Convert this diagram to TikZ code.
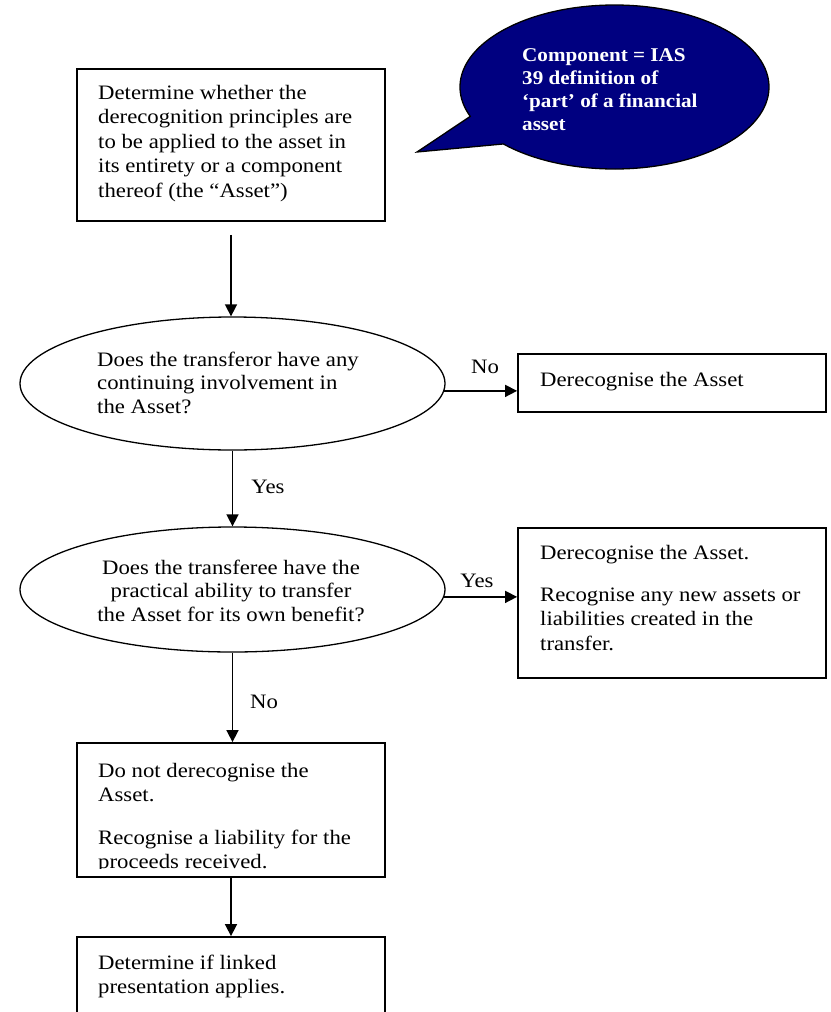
\documentclass[tikz,border=0pt]{standalone}
\usepackage{fontspec}
\setmainfont{Liberation Serif}[FakeStretch=1.11]
\newfontfamily\callfont{Liberation Serif}[FakeStretch=1.083]
\usetikzlibrary{arrows.meta,shapes.geometric,calc}
\definecolor{calloutblue}{RGB}{0,0,128}
\tikzset{
  boxshape/.style={draw, line width=1.8pt, minimum width=308pt, inner sep=0pt},
  ellshape/.style={draw, ellipse, line width=1.3pt, minimum width=425pt, inner sep=0pt},
  boxtext/.style={anchor=north west, inner sep=0pt, align=left, font=\fontsize{20.5pt}{24.5pt}\selectfont},
  elltext/.style={inner sep=0pt, font=\fontsize{20.5pt}{23.7pt}\selectfont},
  lbl/.style={inner sep=0pt, font=\fontsize{20.5pt}{24pt}\selectfont},
  arr/.style={line width=1.6pt, -{Triangle[length=12pt,width=12pt]}},
}
\begin{document}
\begin{tikzpicture}[x=1pt,y=-1pt]
\useasboundingbox (0,0) rectangle (830,1012);
\fill[white] (0,0) rectangle (830,1012);
\clip (0,0) rectangle (830,1012);

% callout
\coordinate (cc) at (614.5,87);
\coordinate (tip) at (417,152);
\filldraw[fill=calloutblue, draw=black, line width=1.3pt]
  ($(cc)+(136:154.5 and 82)$) arc[start angle=136, end angle=-201, x radius=154.5, y radius=82]
  -- (tip) -- cycle;
\node[anchor=north west, inner sep=0pt, align=left, text=white,
      font=\callfont\bfseries\fontsize{19.5pt}{23pt}\selectfont] (tc) at (522,48.5)
  {Component = IAS\\39 definition of\\‘part’ of a financial\\asset};

% boxes and ellipses
\node[boxshape, minimum height=152pt] (b1) at (231,145) {};
\node[boxtext] (t1) at (98,84.6)
  {Determine whether the\\derecognition principles are\\to be applied to the asset in\\its entirety or a component\\thereof (the “Asset”)};

\node[ellshape, minimum height=133pt] (e1) at (232.5,383.5) {};
\node[elltext, anchor=north west, align=left] (te1) at (97,351.6)
  {Does the transferor have any\\continuing involvement in\\the Asset?};

\node[boxshape, minimum height=58pt] (b2) at (672,383) {};
\node[boxtext] (t2) at (540,371.6) {Derecognise the Asset};

\node[ellshape, minimum height=125pt] (e2) at (232.5,589.5) {};
\node[elltext, anchor=north, align=center] (te2) at (231,559.6)
  {Does the transferee have the\\practical ability to transfer\\the Asset for its own benefit?};

\node[boxshape, minimum height=150pt] (b3) at (672,603) {};
\node[boxtext] (t3) at (540,544.6)
  {Derecognise the Asset.\\[17.5pt]Recognise any new assets or\\liabilities created in the\\transfer.};

\node[boxshape, minimum height=134pt] (b4) at (231,810) {};
\begin{scope}
  \clip (79,745) rectangle (383,868);
  \node[boxtext, font=\fontsize{20.5pt}{24pt}\selectfont] (t4) at (98,762.6)
    {Do not derecognise the\\Asset.\\[19pt]Recognise a liability for the\\proceeds received.};
\end{scope}

\node[boxshape, minimum height=120pt] (b5) at (231,997) {};
\node[boxtext] (t5) at (98,954.6)
  {Determine if linked\\presentation applies.};

% connectors
\draw[arr, shorten <=13pt] (b1.south) -- (b1.south |- e1.north);
\draw[arr] (e1.-2.3) -- (b2.west |- e1.-2.3);
\draw[arr] (e1.south) -- (e2.north);
\draw[arr] (e2.-2) -- (b3.west |- e2.-2);
\draw[arr] (e2.south) -- (e2.south |- b4.north);
\draw[arr] (b4.south) -- (b5.north);

% labels
\node[lbl] (l1) at (485,367) {No};
\node[lbl] (l2) at (268,487) {Yes};
\node[lbl] (l3) at (477,581) {Yes};
\node[lbl] (l4) at (264,702) {No};
\end{tikzpicture}
\end{document}
